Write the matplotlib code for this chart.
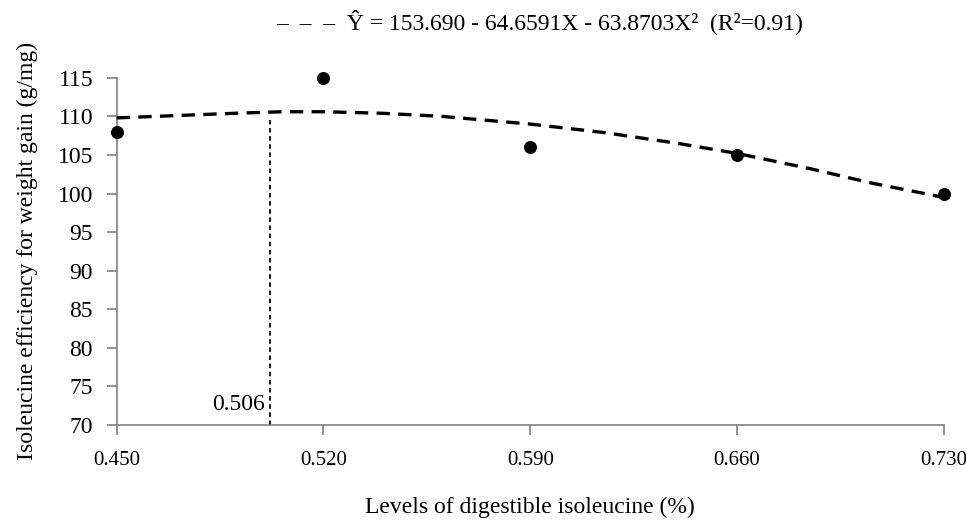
import matplotlib
matplotlib.use('Agg')
import matplotlib.pyplot as plt

# observed means
levels = [0.450, 0.520, 0.590, 0.660, 0.730]
efficiency = [108.0, 115.0, 106.0, 105.0, 100.0]

# fitted curve
curve_x = [0.450, 0.470, 0.490, 0.506, 0.520, 0.540, 0.560, 0.590,
           0.615, 0.640, 0.660, 0.685, 0.705, 0.730]
curve_y = [109.8, 110.1, 110.4, 110.6, 110.6, 110.4, 110.0, 109.0,
           107.9, 106.5, 105.2, 103.2, 101.4, 99.5]

x_ticks = [0.450, 0.520, 0.590, 0.660, 0.730]
y_ticks = [70, 75, 80, 85, 90, 95, 100, 105, 110, 115]

optimum_x = 0.502
optimum_top = 109.5
optimum_label = '0.506'
equation = '–  –  –  Ŷ = 153.690 - 64.6591X - 63.8703X²  (R²=0.91)'

plt.rcParams['font.family'] = ['Liberation Serif', 'DejaVu Serif']
fs = 17

fig = plt.figure(figsize=(9.66, 5.22), dpi=100)
ax = fig.add_axes([0.1208, 0.1858, 0.8562, 0.6652])

ax.plot(curve_x, curve_y, color='black', lw=2.4,
        dashes=(4, 2.5), clip_on=False, zorder=3)
ax.scatter(levels, efficiency, s=70, color='black', zorder=4, clip_on=False)

# optimum level marker
ax.plot([optimum_x, optimum_x], [70, optimum_top], color='black', lw=1.3,
        dashes=(2.5, 2), zorder=2)
ax.text(optimum_x - 0.002, 72.7, optimum_label, ha='right', va='center',
        fontsize=fs)

ax.set_xlim(0.450, 0.730)
ax.set_ylim(70, 115)
ax.set_xticks(x_ticks)
ax.set_xticklabels(['%.3f' % v for v in x_ticks])
ax.set_yticks(y_ticks)

for s in ['top', 'right']:
    ax.spines[s].set_visible(False)
for s in ['left', 'bottom']:
    ax.spines[s].set_color('#808080')
    ax.spines[s].set_linewidth(1.2)
ax.tick_params(axis='both', direction='out', length=7, width=1.2,
               color='#808080', labelsize=fs)
ax.tick_params(axis='x', pad=12, labelsize=15)
ax.tick_params(axis='y', pad=10)

ax.set_xlabel('Levels of digestible isoleucine (%)', fontsize=fs, labelpad=19)
ax.set_ylabel('Isoleucine efficiency for weight gain (g/mg)', fontsize=fs,
              labelpad=14)

fig.text(0.559, 0.958, equation, ha='center', va='center', fontsize=fs)

fig.savefig('out.png', dpi=100)
